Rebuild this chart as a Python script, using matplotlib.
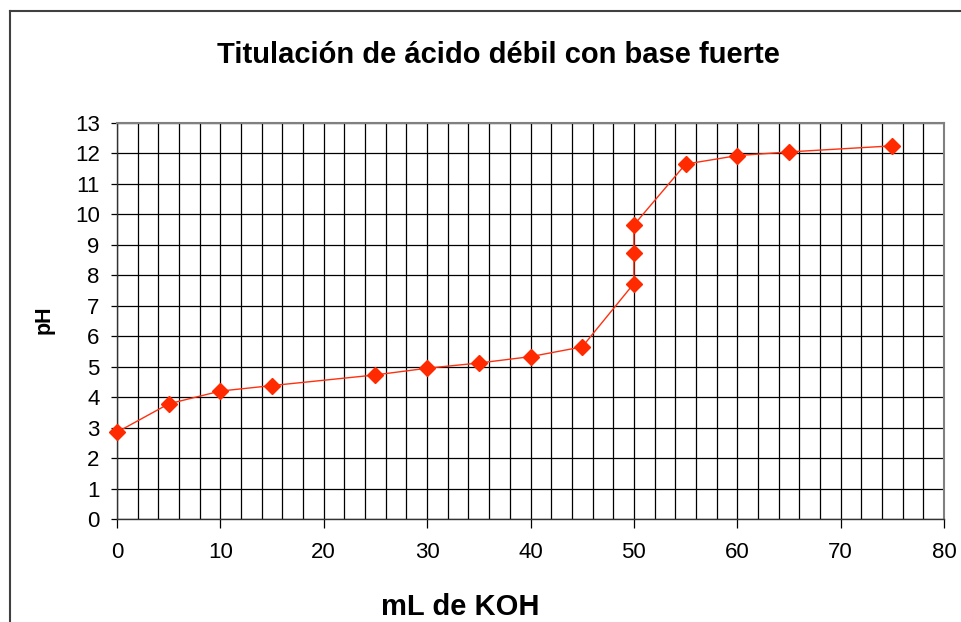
import matplotlib
matplotlib.use("Agg")
import matplotlib.pyplot as plt
from matplotlib.lines import Line2D
import numpy as np

ml_koh = [0, 5, 10, 15, 25, 30, 35, 40, 45, 50, 50, 50, 55, 60, 65, 75]
ph = [2.85, 3.78, 4.2, 4.38, 4.73, 4.95, 5.12, 5.33, 5.65, 7.73, 8.72, 9.65, 11.65, 11.93, 12.05, 12.25]
x_ticks = [0, 10, 20, 30, 40, 50, 60, 70, 80]
y_ticks = list(range(0, 14))

plt.rcParams['font.family'] = ['Liberation Sans', 'DejaVu Sans']

fig = plt.figure(figsize=(9.61, 6.22), dpi=100)
ax = fig.add_axes([117/961, 1-519/622, (944-117)/961, (519-123)/622])

ax.set_xlim(0, 80)
ax.set_ylim(0, 13)
ax.set_xticks(x_ticks)
ax.set_xticks(np.arange(0, 81, 2), minor=True)
ax.set_yticks(y_ticks)

ax.grid(True, which='both', axis='x', color='black', lw=0.9)
ax.grid(True, which='major', axis='y', color='black', lw=0.9)
ax.set_axisbelow(True)

ax.tick_params(axis='x', which='major', direction='out', length=6.5, width=0.9,
               labelsize=16, pad=10, color='black')
ax.tick_params(axis='x', which='minor', length=0)
ax.tick_params(axis='y', which='major', direction='out', length=4.5, width=0.9,
               labelsize=16, pad=8, color='black')

for s in ['left', 'bottom']:
    ax.spines[s].set_color('#333333')
    ax.spines[s].set_linewidth(1.0)
for s in ['top', 'right']:
    ax.spines[s].set_color('#808080')
    ax.spines[s].set_linewidth(1.5)

ax.plot(ml_koh, ph, color='#FF3010', lw=1.0, marker='D', markersize=8,
        markerfacecolor='#FF2A00', markeredgecolor='#FF2A00', clip_on=False, zorder=5)

fig.text(498/961, 1-55/622, 'Titulación de ácido débil con base fuerte',
         ha='center', va='center', fontsize=21, fontweight='bold')
fig.text(460.5/961, 1-607/622, 'mL de KOH', ha='center', va='center',
         fontsize=21, fontweight='bold')
fig.text(44.5/961, 1-320/622, 'pH', ha='center', va='center', rotation=90,
         fontsize=15.5, fontweight='bold')

# outer chart frame
fig.add_artist(Line2D([10/961, 1.0], [1-11/622, 1-11/622], color='#404040', lw=1.5,
                      transform=fig.transFigure))
fig.add_artist(Line2D([10/961, 10/961], [0, 1-11/622], color='#404040', lw=1.5,
                      transform=fig.transFigure))

fig.savefig('out.png', dpi=100)
